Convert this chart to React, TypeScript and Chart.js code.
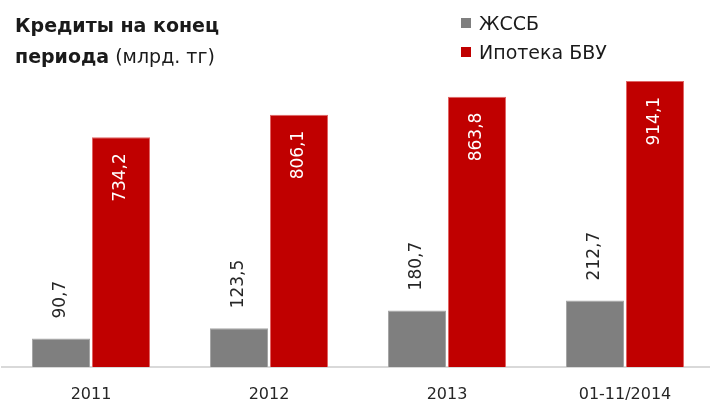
import React, { useEffect, useRef } from "react";
import { Chart, registerables } from "chart.js";

Chart.register(...registerables);

const categories = ["2011", "2012", "2013", "01-11/2014"];
const zhssbValues = [90.7, 123.5, 180.7, 212.7];
const ipotekaValues = [734.2, 806.1, 863.8, 914.1];
const seriesNames = ["ЖССБ", "Ипотека БВУ"];
const titleBold = "Кредиты на конец периода";
const titleNormal = "(млрд. тг)";

const FONT = "'DejaVu Sans', sans-serif";

const fmt = (v: number) => v.toFixed(1).replace(".", ",");

const labelPlugin = {
  id: "rotLabels",
  afterDatasetsDraw(chart: any) {
    const ctx = chart.ctx;
    chart.data.datasets.forEach((ds: any, di: number) => {
      const meta = chart.getDatasetMeta(di);
      meta.data.forEach((bar: any, i: number) => {
        const v = ds.data[i] as number;
        ctx.save();
        ctx.font = `17px ${FONT}`;
        ctx.textBaseline = "middle";
        if (di === 0) {
          ctx.translate(bar.x, bar.y - 20);
          ctx.rotate(-Math.PI / 2);
          ctx.textAlign = "left";
          ctx.fillStyle = "#262626";
        } else {
          ctx.translate(bar.x, bar.y + 16);
          ctx.rotate(-Math.PI / 2);
          ctx.textAlign = "right";
          ctx.fillStyle = "#ffffff";
        }
        ctx.fillText(fmt(v), 0, 0);
        ctx.restore();
      });
    });
  },
};

export default function App() {
  const ref = useRef<HTMLCanvasElement>(null);
  useEffect(() => {
    document.body.style.margin = "0";
    document.body.style.overflow = "hidden";
    document.documentElement.style.overflow = "hidden";
    const chart = new Chart(ref.current!, {
      type: "bar",
      data: {
        labels: categories,
        datasets: [
          {
            label: seriesNames[0],
            data: zhssbValues,
            backgroundColor: "#7f7f7f",
            borderColor: "#a6a6a6",
            borderWidth: 1,
            categoryPercentage: 0.674,
            barPercentage: 0.967,
          },
          {
            label: seriesNames[1],
            data: ipotekaValues,
            backgroundColor: "#c00000",
            borderColor: "#e06666",
            borderWidth: 1,
            categoryPercentage: 0.674,
            barPercentage: 0.967,
          },
        ],
      },
      options: {
        animation: false,
        responsive: false,
        layout: { padding: { top: 54, left: 2, right: 6, bottom: 0 } },
        plugins: {
          legend: { display: false },
          tooltip: { enabled: false },
        },
        scales: {
          x: {
            grid: { display: false, drawTicks: false },
            border: { display: true, color: "#d9d9d9", width: 2 },
            ticks: {
              color: "#262626",
              font: { family: FONT, size: 16 },
              padding: 18,
              maxRotation: 0,
              autoSkip: false,
            },
            afterFit: (s: any) => {
              s.height = 38;
            },
          },
          y: {
            display: false,
            min: 0,
            max: 1000,
          },
        },
      },
      plugins: [labelPlugin],
    });
    return () => chart.destroy();
  }, []);

  return (
    <div style={{ position: "relative", width: 710, height: 405, overflow: "hidden", background: "#fff" }}>
      <canvas ref={ref} width={720} height={405} style={{ position: "absolute", left: 0, top: 0, width: 720, height: 405 }} />
      <div
        style={{
          position: "absolute",
          left: 15,
          top: 10,
          width: 245,
          fontFamily: FONT,
          fontSize: 19,
          lineHeight: "31px",
          color: "#1a1a1a",
        }}
      >
        <span style={{ fontWeight: "bold" }}>{titleBold}</span> <span>{titleNormal}</span>
      </div>
      <div style={{ position: "absolute", left: 461, top: 8, fontFamily: FONT, fontSize: 19, color: "#1a1a1a" }}>
        {seriesNames.map((n, i) => (
          <div key={n} style={{ display: "flex", alignItems: "center", height: 29 }}>
            <span
              style={{
                display: "inline-block",
                width: 10,
                height: 10,
                background: i === 0 ? "#7f7f7f" : "#c00000",
                marginRight: 8,
              }}
            />
            <span>{n}</span>
          </div>
        ))}
      </div>
    </div>
  );
}
